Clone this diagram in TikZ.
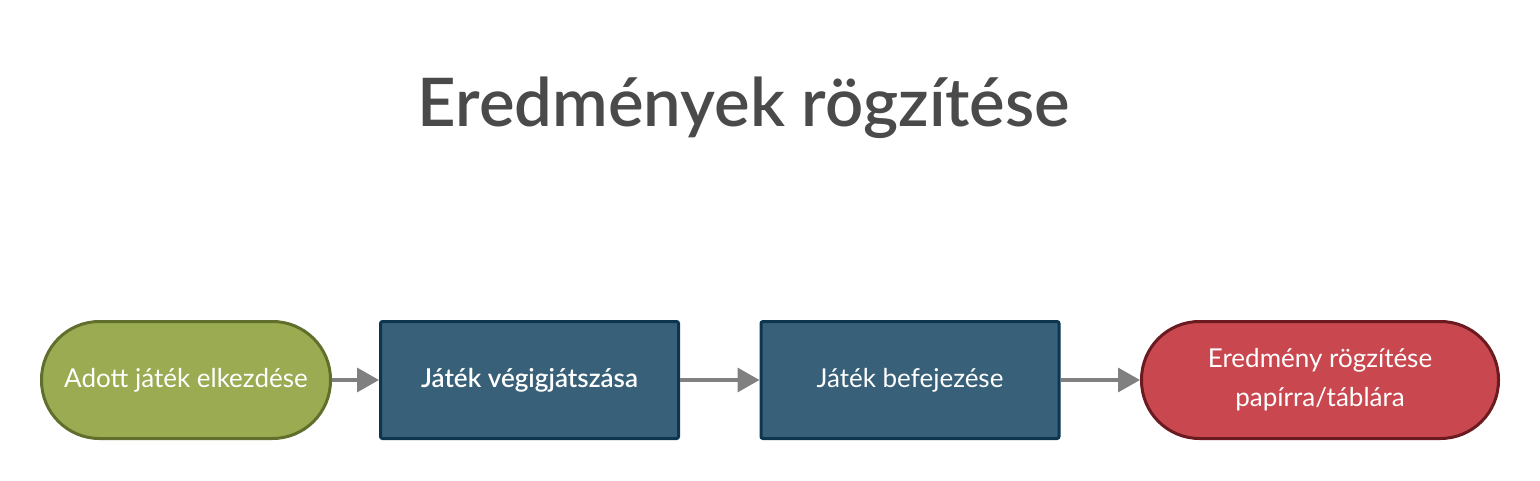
\documentclass[tikz,border=0pt]{standalone}
\usepackage{fontspec}
\setmainfont{Lato}[BoldFont={Lato Semibold}]
\usetikzlibrary{arrows.meta,positioning}
\definecolor{olive}{RGB}{154,171,82}
\definecolor{olivedark}{RGB}{96,111,44}
\definecolor{steel}{RGB}{56,96,120}
\definecolor{steeldark}{RGB}{13,53,80}
\definecolor{brick}{RGB}{201,71,79}
\definecolor{brickdark}{RGB}{107,26,32}
\definecolor{titlegrey}{RGB}{74,74,74}
\definecolor{linkgrey}{RGB}{128,128,128}
\begin{document}
\begin{tikzpicture}[x=1pt,y=1pt,
  pill/.style={draw, line width=3pt, rounded corners=58pt, minimum height=117pt, text=white, align=center, font=\fontsize{26}{39}\selectfont},
  stepbox/.style={draw, line width=3pt, rounded corners=2pt, minimum width=298pt, minimum height=117pt, text=white, font=\fontsize{26}{39}\selectfont},
  link/.style={draw=linkgrey, line width=3.5pt, -{Triangle[length=22pt,width=24pt]}}]
\useasboundingbox (0,0) rectangle (1540,480);
\node [text=titlegrey, font=\bfseries\fontsize{67}{80}\selectfont] (title) at (744,372) {Eredmények rögzítése};
\node [pill, fill=olive, draw=olivedark, minimum width=289pt] (start) at (186,100) {Adott játék elkezdése};
\node [stepbox, fill=steel, draw=steeldark, font=\bfseries\fontsize{26}{39}\selectfont] (play) at (529.5,100) {Játék végigjátszása};
\node [stepbox, fill=steel, draw=steeldark] (finish) at (910,100) {Játék befejezése};
\node [pill, fill=brick, draw=brickdark, minimum width=357pt] (record) at (1320,100) {Eredmény rögzítése\\papírra/táblára};
\draw [link] (start) -- (play);
\draw [link] (play) -- (finish);
\draw [link] (finish) -- (record);
\end{tikzpicture}
\end{document}
